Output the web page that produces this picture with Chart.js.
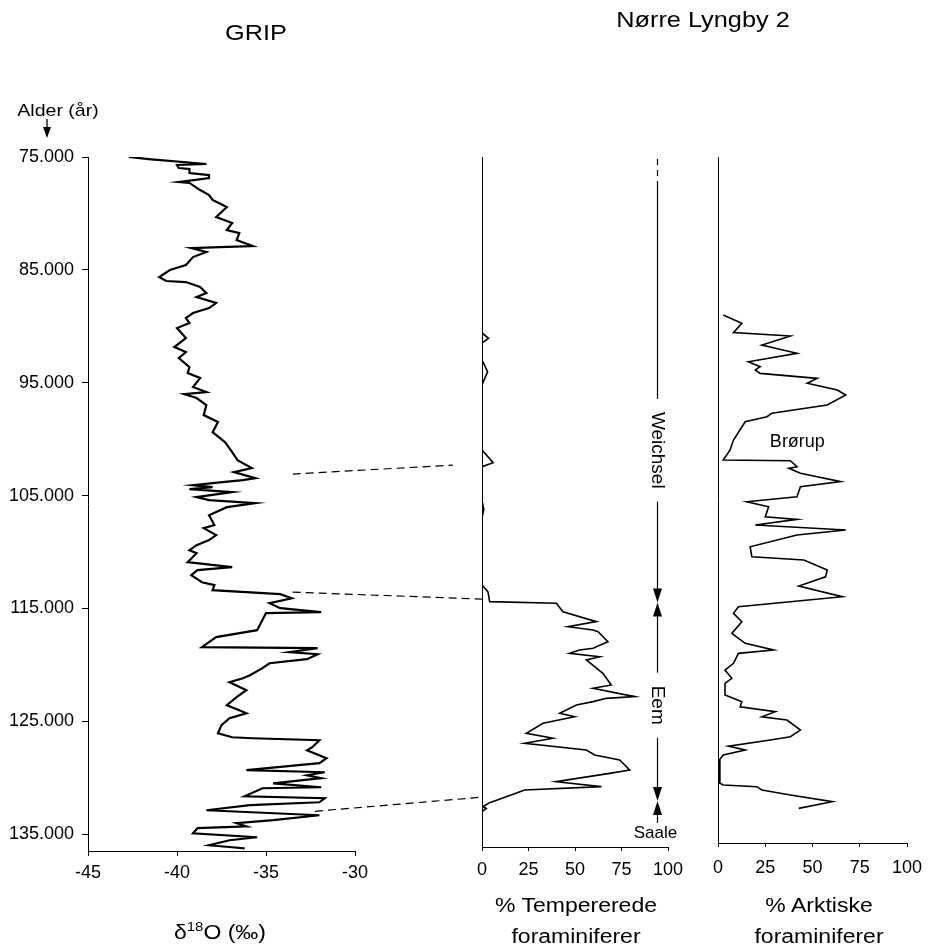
<!DOCTYPE html>
<html lang="da">
<head>
<meta charset="utf-8">
<title>GRIP og Nørre Lyngby 2</title>
<script src="https://cdn.jsdelivr.net/npm/chart.js@4.4.1/dist/chart.umd.min.js"></script>
<style>
  html, body { margin: 0; padding: 0; background: #fff; }
  #page { position: relative; width: 935px; height: 948px; overflow: hidden; font-family: 'Liberation Sans', Arial, sans-serif; color: #000; }
  #page canvas { position: absolute; top: 0; }
  .lbl { position: absolute; white-space: nowrap; text-align: center; line-height: 1; transform: translate(-50%, -50%) scaleX(1.15); }
  .lbl sup { font-size: 0.65em; vertical-align: 0.6em; line-height: 0; }
</style>
</head>
<body>
<div id="page">
  <canvas id="gripChart" width="500" height="948" style="left:0"></canvas>
  <canvas id="tempChart" width="280" height="948" style="left:420px"></canvas>
  <canvas id="arcChart" width="245" height="948" style="left:690px"></canvas>

  <div class="lbl" style="left:256px; top:33px; font-size:22px">GRIP</div>
  <div class="lbl" style="left:703px; top:20px; font-size:22px">Nørre Lyngby 2</div>
  <div class="lbl" style="left:58px; top:110px; font-size:17px">Alder (år)</div>
  <div class="lbl" style="left:220px; top:932px; font-size:20px">δ<sup>18</sup>O (‰)</div>
  <div class="lbl" style="left:576px; top:921px; font-size:20px; line-height:31px">% Tempererede<br>foraminiferer</div>
  <div class="lbl" style="left:819px; top:921px; font-size:20px; line-height:31px">% Arktiske<br>foraminiferer</div>
</div>

<script>
// age axis (years), shared by all three columns
const ageTicks = [75000, 85000, 95000, 105000, 115000, 125000, 135000];
const pctTicks = [0, 25, 50, 75, 100];

// GRIP ice core, delta-18O
const gripAge = [75000, 75180, 75620, 75710, 75980, 76060, 76420, 76600, 76860, 77220,
  77300, 77930, 78370, 78810, 79430, 80320, 80850, 81470, 81740, 82360,
  82890, 82980, 83070, 83420, 83870, 84570, 85020, 85640, 85990, 86080,
  86520, 87060, 87410, 87940, 88390, 88830, 89270, 89720, 90160, 91050,
  91840, 92290, 92820, 93620, 94150, 94590, 95390, 95830, 96010, 96360,
  96990, 97870, 98490, 99380, 100270, 101150, 101860, 102570, 102930, 103460,
  103630, 103810, 104080, 104250, 104430, 104700, 105140, 105410, 105670, 106030,
  106740, 107620, 107890, 108510, 108950, 109400, 109840, 110110, 110900, 111350,
  111610, 112060, 112680, 112940, 113390, 113740, 114100, 114540, 114980, 115340,
  115420, 116040, 116930, 117550, 118440, 118530, 118880, 119060, 119500, 119860,
  120300, 120920, 121190, 121540, 122250, 122870, 123580, 124020, 124290, 124730,
  125350, 126060, 126420, 126510, 126680, 127300, 127570, 128280, 128720, 129340,
  129520, 129790, 130050, 130500, 130850, 130940, 131650, 131820, 132180, 132440,
  132890, 133330, 133770, 134040, 134310, 134480, 134930, 135280, 135550, 135990,
  136170, 136260];
const gripD18O = [-42.7, -41.6, -38.35, -40.0, -39.9, -39.3, -39.3, -38.2, -38.2, -39.9,
  -39.3, -38.7, -38.2, -38.0, -37.2, -37.8, -36.9, -37.2, -36.5, -36.65,
  -35.75, -37.6, -39.2, -38.35, -39.1, -39.5, -40.4, -41.0, -40.6, -39.5,
  -38.7, -38.35, -38.9, -37.8, -38.2, -39.1, -39.5, -39.3, -40.0, -39.5,
  -40.15, -39.5, -39.9, -39.3, -39.4, -38.7, -39.1, -38.35, -39.6, -38.9,
  -38.35, -38.5, -37.7, -38.0, -37.3, -36.9, -36.6, -35.8, -36.8, -35.6,
  -36.3, -37.45, -39.1, -38.0, -39.3, -36.9, -38.9, -38.2, -35.6, -37.2,
  -38.2, -37.9, -38.5, -37.8, -38.2, -38.9, -39.3, -38.9, -39.4, -36.9,
  -38.85, -39.2, -38.6, -37.9, -38.0, -34.2, -33.55, -34.8, -34.2, -31.9,
  -35.0, -35.2, -35.5, -37.8, -38.6, -32.1, -33.7, -32.1, -32.7, -34.8,
  -35.2, -35.9, -36.3, -37.05, -36.1, -36.65, -37.2, -36.5, -36.1, -37.05,
  -37.5, -37.7, -36.9, -35.75, -32.0, -32.4, -32.7, -31.6, -32.0, -36.1,
  -31.7, -32.7, -31.9, -34.6, -31.9, -35.2, -36.2, -31.7, -32.0, -35.9,
  -38.35, -32.0, -34.6, -36.65, -36.1, -38.85, -39.1, -35.5, -37.05, -38.2,
  -36.9, -36.2];

// Nørre Lyngby 2, % tempererede foraminiferer
const tempAge = [89270, 90600, 91070, 91500, 92990, 94030, 95210, 100980, 102100, 102450,
  105500, 106200, 107000, 112940, 113540, 114420, 114560, 115310, 116190, 116640,
  116930, 117080, 117970, 118550, 118710, 119000, 119300, 119590, 120770, 121810,
  122100, 122840, 122990, 123280, 123580, 124320, 124620, 125200, 126090, 126530,
  126970, 127570, 128010, 128460, 129340, 129640, 130380, 130820, 131120, 131710,
  132240, 132600, 132740, 133030, 136170];
const tempPct = [0, 0, 3.5, 0, 0, 3, 0, 0, 6, 0,
  0, 1, 0, 0, 3.2, 4.1, 40, 43.5, 61.5, 46.2,
  59.7, 62.4, 67.7, 59.7, 52.5, 47.1, 63.3, 56.1, 65, 69.5,
  59.7, 82.1, 66.8, 59.7, 50.7, 41.8, 49.8, 32.8, 23.8, 38.2,
  22.9, 56.1, 60.6, 74, 79.4, 68.6, 39.8, 64.2, 22.9, 13.1,
  4.1, 0.5, 2.3, 0, 0];

// Nørre Lyngby 2, % arktiske foraminiferer
const arcAge = [89010, 89750, 90570, 90870, 91670, 92400, 93150, 93590, 93880, 94180,
  94620, 95060, 95660, 96100, 96990, 97720, 98020, 98470, 100090, 100970,
  101860, 101920, 102450, 102600, 103040, 103780, 104230, 105110, 105560, 106000,
  106890, 107120, 107620, 108070, 108510, 109550, 110430, 110730, 111610, 112210,
  113030, 113980, 114870, 115450, 116200, 117230, 118110, 118700, 119000, 119880,
  120480, 121210, 121660, 122690, 123280, 123730, 124170, 124620, 124910, 125800,
  126390, 126680, 127220, 127570, 128010, 128460, 130520, 130670, 130820, 131110,
  131560, 132150, 132740];
const arcPct = [2.8, 12.6, 8.2, 38.3, 23.2, 41.8, 16.1, 22.3, 19.7, 22.3,
  52.5, 47.2, 63.1, 67.6, 57.8, 28.5, 25.9, 14.4, 8.2, 6.4,
  2.8, 38.3, 41.8, 37.4, 43.6, 64.9, 43.6, 41.8, 15.2, 26.8,
  25, 41.8, 19.7, 67.6, 41.8, 17, 17.9, 45.4, 57.8, 56.9,
  42.7, 65.8, 10.8, 8.2, 12.6, 7.3, 14.4, 29.4, 10.8, 8.2,
  3.7, 7.3, 3.7, 3.7, 12.6, 11.7, 30.3, 23.2, 36.5, 43.6,
  38.3, 27.7, 5.5, 14.4, 2.8, 0.7, 1, 2.8, 20.6, 23.2,
  38.3, 60.5, 42.7];

// dashed tie lines GRIP -> Nørre Lyngby (in GRIP axis units, run past the axis end)
const tieFromD18O = [-33.5, -33.5, -32.25];
const tieFromAge = [103100, 113560, 132980];
const tieToD18O = [-24.5, -22.8, -22.95];
const tieToAge = [102300, 114180, 131740];

// stratigraphy column
const stageNames = ['Weichsel', 'Eem', 'Saale'];
const stageTopAge = [75000, 114500, 132100];
const stageEndAge = [114500, 132100, 134040];
const stageLabelAge = [101000, 123600, 134950];
const stageX = 94;

const FONT = "'Liberation Sans', Arial, sans-serif";
Chart.defaults.font.family = FONT;
Chart.defaults.color = '#000';

const fmtAge = (v) => String(v).replace(/\B(?=(\d{3})+(?!\d))/g, '.');

const fixBox = (w, h) => (scale) => {
    if (w !== null) scale.width = w;
    if (h !== null) scale.height = h;
    scale.paddingLeft = scale.paddingRight = scale.paddingTop = scale.paddingBottom = 0;
};

const toPoints = (xs, ys) => xs.map((v, i) => ({ x: v, y: ys[i] }));

const curve = (data, width) => ({
    data,
    showLine: true,
    borderColor: '#000',
    borderWidth: width,
    pointRadius: 0,
    tension: 0
});

const pctAxis = (bottomPad) => ({
    type: 'linear',
    min: 0,
    max: 100,
    afterBuildTicks: (s) => { s.ticks = pctTicks.map(v => ({ value: v })); },
    ticks: { font: { size: 18 }, padding: bottomPad, maxRotation: 0 },
    grid: { drawOnChartArea: false, tickLength: 4, color: '#000' },
    border: { color: '#000', width: 1 },
    afterFit: fixBox(null, 60)
});

const plainAgeAxis = (max) => ({
    type: 'linear',
    reverse: true,
    min: 75000,
    max,
    ticks: { display: false },
    grid: { drawOnChartArea: false, drawTicks: false, color: '#000' },
    border: { color: '#000', width: 1 },
    afterFit: fixBox(0, null)
});

const baseOptions = (padding) => ({
    responsive: false,
    animation: false,
    events: [],
    layout: { padding },
    plugins: { legend: { display: false }, tooltip: { enabled: false } }
});

const ageArrow = {
    id: 'ageArrow',
    afterDraw(chart) {
        const ctx = chart.ctx;
        ctx.save();
        ctx.strokeStyle = '#000';
        ctx.fillStyle = '#000';
        ctx.lineWidth = 1.3;
        ctx.beginPath();
        ctx.moveTo(47, 119);
        ctx.lineTo(47, 129);
        ctx.stroke();
        ctx.beginPath();
        ctx.moveTo(47, 138);
        ctx.lineTo(43, 127);
        ctx.lineTo(51, 127);
        ctx.closePath();
        ctx.fill();
        ctx.restore();
    }
};

const stageColumn = {
    id: 'stageColumn',
    afterDraw(chart) {
        const { ctx, scales: { x, y } } = chart;
        const cx = Math.round(x.getPixelForValue(stageX)) + 0.5;
        ctx.save();
        ctx.strokeStyle = '#000';
        ctx.fillStyle = '#000';
        ctx.lineWidth = 1.2;

        const seg = (y1, y2, dash) => {
            ctx.setLineDash(dash || []);
            ctx.beginPath();
            ctx.moveTo(cx, y1);
            ctx.lineTo(cx, y2);
            ctx.stroke();
            ctx.setLineDash([]);
        };
        const head = (tip, dir) => {
            ctx.beginPath();
            ctx.moveTo(cx, tip);
            ctx.lineTo(cx - 4.5, tip - dir * 14);
            ctx.lineTo(cx + 4.5, tip - dir * 14);
            ctx.closePath();
            ctx.fill();
        };

        stageNames.forEach((name, i) => {
            let top = y.getPixelForValue(stageTopAge[i]);
            const end = y.getPixelForValue(stageEndAge[i]);
            const mid = y.getPixelForValue(stageLabelAge[i]);
            if (i === 0) {
                seg(top + 2, top + 22, [6, 5]);
                top += 24;
            } else {
                head(top, -1);
                top += 13;
            }
            ctx.textAlign = 'center';
            ctx.textBaseline = 'middle';
            if (i === stageNames.length - 1) {
                seg(top, end);
                ctx.font = '17px ' + FONT;
                ctx.fillText(name, cx - 2, mid);
                return;
            }
            ctx.font = '19px ' + FONT;
            const half = ctx.measureText(name).width / 2 + 13;
            seg(top, mid - half);
            seg(mid + half, end - 13);
            head(end, 1);
            ctx.save();
            ctx.translate(cx, mid);
            ctx.rotate(Math.PI / 2);
            ctx.fillText(name, 0, 0);
            ctx.restore();
        });
        ctx.restore();
    }
};

const brorupLabel = {
    id: 'brorupLabel',
    afterDraw(chart) {
        const { ctx, scales: { x, y } } = chart;
        ctx.save();
        ctx.font = '18px ' + FONT;
        ctx.fillStyle = '#000';
        ctx.textAlign = 'center';
        ctx.textBaseline = 'middle';
        ctx.fillText('Brørup', x.getPixelForValue(42), y.getPixelForValue(100270));
        ctx.restore();
    }
};

// GRIP
const tieSets = tieFromAge.map((a, i) => ({
    data: [{ x: tieFromD18O[i], y: a }, { x: tieToD18O[i], y: tieToAge[i] }],
    showLine: true,
    borderColor: '#000',
    borderWidth: 1.2,
    borderDash: [8, 5],
    pointRadius: 0,
    clip: false
}));

new Chart(document.getElementById('gripChart'), {
    type: 'scatter',
    data: { datasets: [curve(toPoints(gripD18O, gripAge), 2.2), ...tieSets] },
    options: {
        ...baseOptions({ left: 0, right: 145, top: 157, bottom: 37 }),
        scales: {
            x: {
                type: 'linear',
                min: -45,
                max: -30,
                ticks: { stepSize: 5, font: { size: 18 }, padding: 6, maxRotation: 0 },
                grid: { drawOnChartArea: false, tickLength: 5, color: '#000' },
                border: { color: '#000', width: 1 },
                afterFit: fixBox(null, 60)
            },
            y: {
                type: 'linear',
                reverse: true,
                min: 75000,
                max: 136500,
                afterBuildTicks: (s) => { s.ticks = ageTicks.map(v => ({ value: v })); },
                ticks: { callback: fmtAge, font: { size: 18 }, padding: 8 },
                grid: { drawOnChartArea: false, tickLength: 6, color: '#000' },
                border: { color: '#000', width: 1 },
                afterFit: fixBox(88, null)
            }
        }
    },
    plugins: [ageArrow]
});

// Nørre Lyngby 2 – tempererede
new Chart(document.getElementById('tempChart'), {
    type: 'scatter',
    data: { datasets: [curve(toPoints(tempPct, tempAge), 1.6)] },
    options: {
        ...baseOptions({ left: 62, right: 32, top: 157, bottom: 41 }),
        scales: { x: pctAxis(8), y: plainAgeAxis(136170) }
    },
    plugins: [stageColumn]
});

// Nørre Lyngby 2 – arktiske
new Chart(document.getElementById('arcChart'), {
    type: 'scatter',
    data: { datasets: [curve(toPoints(arcPct, arcAge), 1.6)] },
    options: {
        ...baseOptions({ left: 28, right: 28, top: 157, bottom: 45 }),
        scales: { x: pctAxis(10), y: plainAgeAxis(135810) }
    },
    plugins: [brorupLabel]
});
</script>
</body>
</html>
